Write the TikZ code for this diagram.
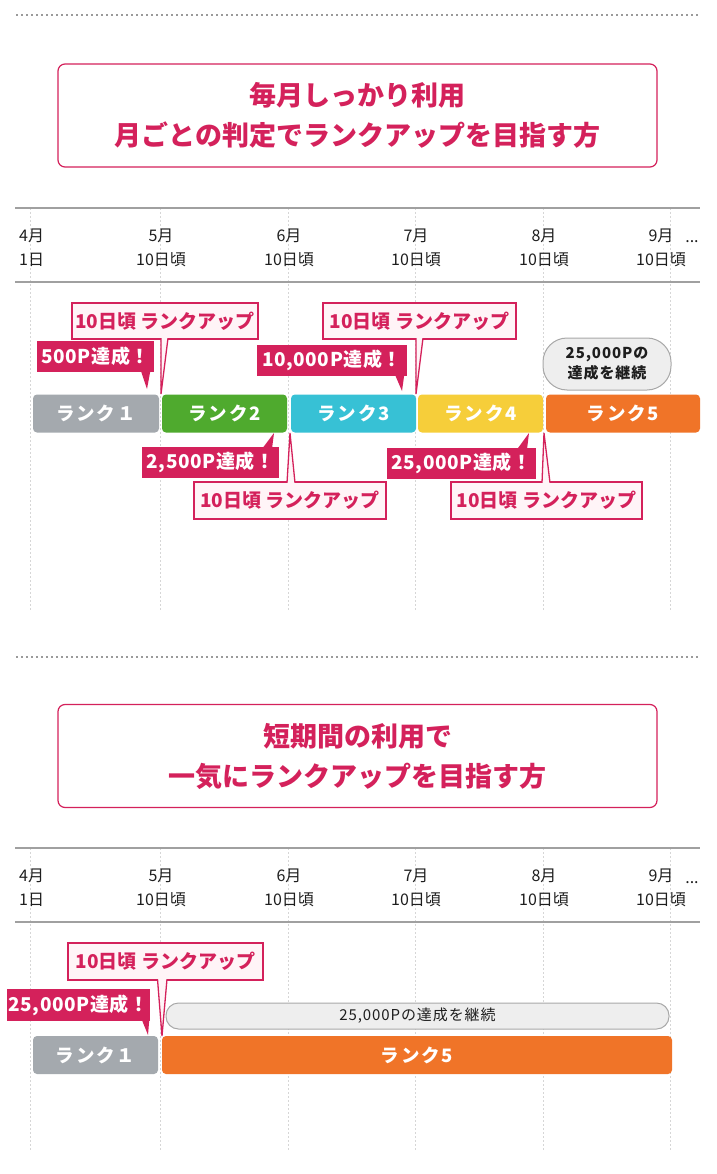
\documentclass[tikz,border=0pt]{standalone}
\usepackage{fontspec}
\setmainfont{Noto Sans CJK JP}
\usepackage{tikz}

\definecolor{crim}{HTML}{D4215B}
\definecolor{pinkbg}{HTML}{FFF4F7}
\definecolor{rankgray}{HTML}{A4A9AE}
\definecolor{rankgreen}{HTML}{4FAA2E}
\definecolor{rankcyan}{HTML}{37C1D5}
\definecolor{rankyellow}{HTML}{F6CE3A}
\definecolor{rankorange}{HTML}{F07428}
\definecolor{pillfill}{HTML}{EEEEEE}
\definecolor{pillline}{HTML}{A8A8A8}
\definecolor{headgray}{HTML}{A0A0A0}
\definecolor{gridgray}{HTML}{D6D6D6}
\definecolor{dotgray}{HTML}{9A9A9A}
\definecolor{inktext}{HTML}{1E1E1E}

\tikzset{
  divider/.style={dotgray, line width=1.5pt, dash pattern=on 2pt off 3pt},
  gridline/.style={gridgray, line width=0.8pt, dash pattern=on 2pt off 2pt},
  headline/.style={headgray, line width=1.8pt},
  titlebox/.style={draw=crim, line width=1.2pt, rounded corners=7pt, minimum width=599pt, minimum height=103pt,
    align=center, text=crim, font=\bfseries\fontsize{27}{40}\selectfont},
  datelabel/.style={inner sep=0pt, text=inktext, font=\fontsize{16}{18}\selectfont},
  rankbar/.style={rounded corners=4pt, inner sep=0pt, minimum height=38pt, text=white,
    font=\bfseries\fontsize{18.5}{20}\selectfont\addfontfeatures{LetterSpace=10}},
  upbox/.style={draw=crim, line width=1.3pt, fill=pinkbg, text=crim, inner sep=0pt, minimum height=36pt,
    font=\bfseries\fontsize{19}{21}\selectfont},
  gotbox/.style={fill=crim, text=white, inner sep=0pt, minimum height=31pt,
    font=\bfseries\fontsize{19}{21}\selectfont\addfontfeatures{LetterSpace=3}},
  upptr/.style={draw=crim, line width=1.3pt, fill=pinkbg, line join=miter},
  gotptr/.style={fill=crim},
  keepbox/.style={draw=pillline, line width=1pt, fill=pillfill, text=inktext, inner sep=0pt, align=center,
    font=\bfseries\fontsize{15}{20}\selectfont\addfontfeatures{LetterSpace=6}}
}

\begin{document}
\begin{tikzpicture}[x=1pt,y=-1pt]
    \useasboundingbox[fill=white] (0,0) rectangle (716,1174);

    % Dotted dividers
    \draw[divider] (16,15) -- (699,15);
    \draw[divider] (16,657) -- (699,657);

    % Month grid lines
    \foreach \x in {30,160,288,415,543,670} {
        \draw[gridline] (\x,208) -- (\x,610);
        \draw[gridline] (\x,848) -- (\x,1150);
    }

    % Title boxes
    \node[titlebox] (title1) at (357.5,115.5) {毎月しっかり利用\\月ごとの判定でランクアップを目指す方};
    \node[titlebox] (title2) at (357.5,756) {短期間の利用で\\一気にランクアップを目指す方};

    % Date headers
    \foreach \y/\s in {208/a,848/b} {
        \draw[headline] (15,\y) -- (700,\y);
        \draw[headline] (15,\y+74) -- (700,\y+74);
        \node[datelabel, anchor=west] (m4\s) at (19,\y+28) {4月};
        \node[datelabel, anchor=west] (d4\s) at (19,\y+52) {1日};
        \foreach \m/\x in {5/161,6/289,7/416,8/544,9/661} {
            \node[datelabel] (m\m\s) at (\x,\y+28) {\m{}月};
            \node[datelabel] (d\m\s) at (\x,\y+52) {10日頃};
        }
        \node[datelabel, anchor=base] (more\s) at (692,\y+35) {...};
    }

    % Monthly ranks
    \node[rankbar, fill=rankgray, minimum width=126pt] (r1) at (96,413.5) {ランク１};
    \node[rankbar, fill=rankgreen, minimum width=125pt] (r2) at (224.5,413.5) {ランク2};
    \node[rankbar, fill=rankcyan, minimum width=125pt] (r3) at (353.5,413.5) {ランク3};
    \node[rankbar, fill=rankyellow, minimum width=125pt] (r4) at (480.5,413.5) {ランク4};
    \node[rankbar, fill=rankorange, minimum width=154pt] (r5) at (623,413.5) {ランク5};

    % Callouts above
    \node[upbox, minimum width=186pt] (up1) at (165,321) {10日頃 ランクアップ};
    \coordinate (t1) at (161,394);
    \draw[upptr] ([xshift=-4pt,yshift=1.5pt]up1.south) -- (t1) -- ([xshift=3pt,yshift=1.5pt]up1.south);

    \node[gotbox, minimum width=117pt] (got1) at (95.5,356.5) {500P達成！};
    \coordinate (g1) at (147,389);
    \fill[gotptr] ([xshift=-13pt,yshift=0.5pt]got1.south east) -- (g1) -- ([xshift=-4pt,yshift=0.5pt]got1.south east) -- cycle;

    \node[upbox, minimum width=193pt] (up2) at (419.5,321) {10日頃 ランクアップ};
    \coordinate (t2) at (416,394);
    \draw[upptr] ([xshift=-3.5pt,yshift=1.5pt]up2.south) -- (t2) -- ([xshift=3.5pt,yshift=1.5pt]up2.south);

    \node[gotbox, minimum width=150pt] (got2) at (332,360) {10,000P達成！};
    \coordinate (g2) at (402,391);
    \fill[gotptr] ([xshift=-12pt,yshift=0.5pt]got2.south east) -- (g2) -- ([xshift=-3pt,yshift=0.5pt]got2.south east) -- cycle;

    \node[keepbox, minimum width=128pt, minimum height=52pt, rounded corners=24pt] (keep1) at (607,364) {25,000Pの\\達成を継続};

    % Callouts below
    \node[gotbox, minimum width=137pt] (got3) at (210.5,462.5) {2,500P達成！};
    \coordinate (g3) at (274,433);
    \fill[gotptr] ([xshift=-16pt,yshift=-0.5pt]got3.north east) -- (g3) -- ([xshift=-7pt,yshift=-0.5pt]got3.north east) -- cycle;

    \node[upbox, minimum width=192pt, minimum height=37pt] (up3) at (290,500.5) {10日頃 ランクアップ};
    \coordinate (t3) at (290,433);
    \draw[upptr] ([xshift=-3pt,yshift=-1.5pt]up3.north) -- (t3) -- ([xshift=5pt,yshift=-1.5pt]up3.north);

    \node[gotbox, minimum width=149pt] (got4) at (461.5,463) {25,000P達成！};
    \coordinate (g4) at (529,433);
    \fill[gotptr] ([xshift=-18pt,yshift=-0.5pt]got4.north east) -- (g4) -- ([xshift=-9pt,yshift=-0.5pt]got4.north east) -- cycle;

    \node[upbox, minimum width=191pt, minimum height=37pt] (up4) at (546.5,500.5) {10日頃 ランクアップ};
    \coordinate (t4) at (544,433);
    \draw[upptr] ([xshift=-4.5pt,yshift=-1.5pt]up4.north) -- (t4) -- ([xshift=3.5pt,yshift=-1.5pt]up4.north);

    % Short-term ranks
    \node[rankbar, fill=rankgray, minimum width=125pt] (s1) at (95.5,1055) {ランク１};
    \node[rankbar, fill=rankorange, minimum width=510pt] (s5) at (417,1055) {ランク5};

    \node[keepbox, minimum width=503pt, minimum height=26pt, rounded corners=12.5pt,
        font=\fontsize{15}{17}\selectfont\addfontfeatures{LetterSpace=6}] (keep2) at (417.5,1016) {25,000Pの達成を継続};

    \node[upbox, minimum width=195pt, minimum height=37pt] (up5) at (165.5,961.5) {10日頃 ランクアップ};
    \coordinate (t5) at (162,1036);
    \draw[upptr] ([xshift=-8pt,yshift=1.5pt]up5.south) -- (t5) -- ([xshift=1.5pt,yshift=1.5pt]up5.south);

    \node[gotbox, minimum width=143pt, minimum height=32pt] (got5) at (78.5,1005) {25,000P達成！};
    \coordinate (g5) at (148,1035);
    \fill[gotptr] ([xshift=-8pt,yshift=0.5pt]got5.south east) -- (g5) -- ([xshift=-1pt,yshift=0.5pt]got5.south east) -- cycle;
\end{tikzpicture}
\end{document}
